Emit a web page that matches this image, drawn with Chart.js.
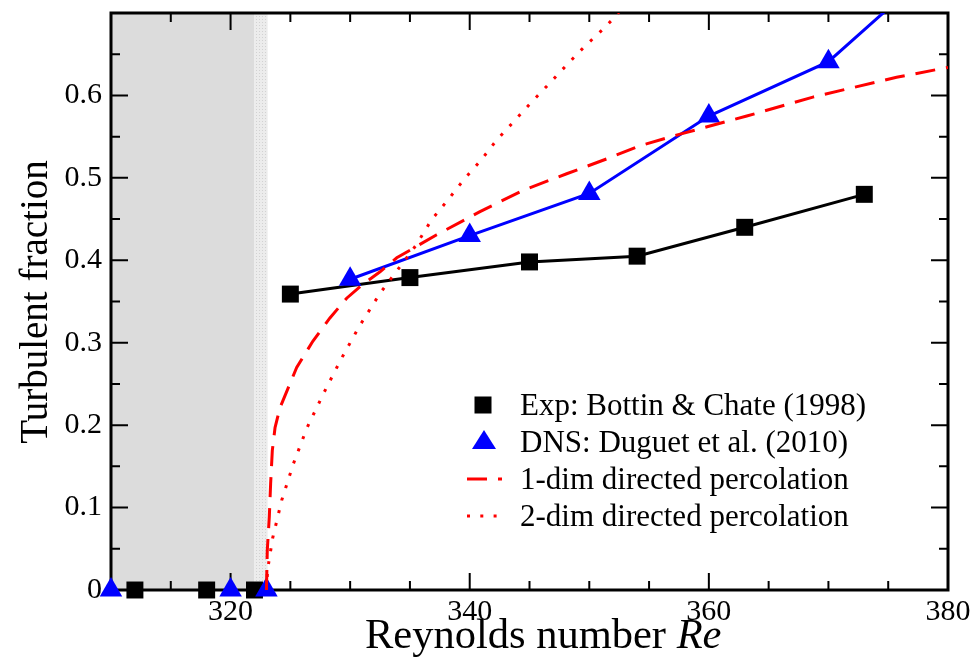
<!DOCTYPE html>
<html>
<head>
<meta charset="utf-8">
<script src="https://cdn.jsdelivr.net/npm/chart.js"></script>
<style>
  body { margin: 0; background: #fff; }
</style>
</head>
<body>
<canvas id="myChart" width="975" height="661"></canvas>
<script>
// experiment (Bottin & Chate 1998)
const expRe = [325, 335, 345, 354, 363, 373];
const expFrac = [0.359, 0.379, 0.398, 0.405, 0.440, 0.480];
const expZeroRe = [312, 318, 322];

// DNS (Duguet et al. 2010)
const dnsRe = [330, 340, 350, 360, 370, 380];
const dnsFrac = [0.377, 0.430, 0.481, 0.575, 0.641, 0.77];
const dnsZeroRe = [310, 320, 323];

// 1-dim directed percolation curve
const dp1Re = [323.0, 323.07, 323.24, 323.35, 323.49, 323.72, 324.13, 325.53, 326.89, 328.31, 329.71, 331.08, 332.5, 333.9,
  337.24, 340.86, 344.48, 348.11, 351.46, 354.24, 357.6, 363.17, 368.7, 375.7, 380];
const dp1Frac = [0, 0.048, 0.089, 0.129, 0.169, 0.197, 0.221, 0.270, 0.302, 0.330, 0.354, 0.371, 0.386, 0.403,
  0.431, 0.459, 0.485, 0.505, 0.523, 0.539, 0.553, 0.575, 0.598, 0.622, 0.634];

// 2-dim directed percolation curve
const dp2Re = [323.0, 323.1, 323.52, 324.28, 325.25, 326.37, 327.76, 329.24, 330.77, 332.5, 334.31, 335.5, 336.8, 338.16,
  339.52, 340.92, 342.26, 343.73, 345.18, 346.63, 348.11, 349.58, 351.12, 351.93, 353.0];
const dp2Frac = [0, 0.025, 0.063, 0.109, 0.153, 0.196, 0.238, 0.280, 0.320, 0.360, 0.395, 0.418, 0.449, 0.473,
  0.498, 0.521, 0.546, 0.569, 0.592, 0.614, 0.637, 0.659, 0.680, 0.692, 0.71];

const xTickLabels = [320, 340, 360, 380];
const yTickLabels = [0, 0.1, 0.2, 0.3, 0.4, 0.5, 0.6];

const shadeRange = [310, 322];
const stippleRange = [322, 323.1];

const legendItems = [
  'Exp: Bottin & Chate (1998)',
  'DNS: Duguet et al. (2010)',
  '1-dim directed percolation',
  '2-dim directed percolation'
];

function pts(xs, ys) {
  return xs.map((v, i) => ({x: v, y: ys[i]}));
}
function isIn(list, v) {
  return list.some(t => Math.abs(t - v) < 1e-6);
}

Chart.defaults.font.family = 'Liberation Serif';
Chart.defaults.color = '#000';

// stipple pattern for the narrow band
const pc = document.createElement('canvas');
pc.width = 3; pc.height = 3;
const pctx = pc.getContext('2d');
pctx.fillStyle = '#ececec';
pctx.fillRect(0, 0, 3, 3);
pctx.fillStyle = '#d2d2d2';
pctx.fillRect(1, 1, 1, 1);

const framePlugin = {
  id: 'frame',
  beforeDatasetsDraw(chart) {
    const {ctx, chartArea: a, scales: {x, y}} = chart;
    ctx.save();
    const x0 = x.getPixelForValue(shadeRange[0]);
    const x1 = x.getPixelForValue(shadeRange[1]);
    const x2 = x.getPixelForValue(stippleRange[1]);
    ctx.fillStyle = '#dcdcdc';
    ctx.fillRect(x0, a.top, x1 - x0, a.bottom - a.top);
    ctx.fillStyle = ctx.createPattern(pc, 'repeat');
    ctx.fillRect(x1, a.top, x2 - x1, a.bottom - a.top);

    ctx.strokeStyle = '#000';
    ctx.lineWidth = 2;
    x.ticks.forEach(t => {
      const px = x.getPixelForValue(t.value);
      const len = isIn(xTickLabels, t.value) ? 17 : 9;
      ctx.beginPath();
      ctx.moveTo(px, a.bottom); ctx.lineTo(px, a.bottom - len);
      ctx.moveTo(px, a.top); ctx.lineTo(px, a.top + len);
      ctx.stroke();
    });
    y.ticks.forEach(t => {
      const py = y.getPixelForValue(t.value);
      const major = Math.abs(t.value * 10 - Math.round(t.value * 10)) < 1e-6;
      const len = major ? 17 : 9;
      ctx.beginPath();
      ctx.moveTo(a.left, py); ctx.lineTo(a.left + len, py);
      ctx.moveTo(a.right, py); ctx.lineTo(a.right - len, py);
      ctx.stroke();
    });
    ctx.lineWidth = 3;
    ctx.strokeRect(a.left, a.top, a.right - a.left, a.bottom - a.top);
    ctx.restore();
  }
};

const textPlugin = {
  id: 'texts',
  afterDraw(chart) {
    const {ctx} = chart;
    ctx.save();
    ctx.fillStyle = '#000';
    // x title
    ctx.textBaseline = 'alphabetic';
    ctx.textAlign = 'left';
    ctx.font = '42.5px "Liberation Serif"';
    const part1 = 'Reynolds number ';
    ctx.fillText(part1, 365, 648);
    const w1 = ctx.measureText(part1).width;
    ctx.font = 'italic 42.5px "Liberation Serif"';
    ctx.fillText('Re', 365 + w1, 648);
    // y title
    ctx.save();
    ctx.translate(47, 302);
    ctx.rotate(-Math.PI / 2);
    ctx.textAlign = 'center';
    ctx.font = '39px "Liberation Serif"';
    ctx.fillText('Turbulent fraction', 0, 0);
    ctx.restore();

    // legend
    ctx.font = '31px "Liberation Serif"';
    ctx.textAlign = 'left';
    const tx = 520;
    const rows = [405, 442, 479, 516];
    legendItems.forEach((s, i) => ctx.fillText(s, tx, rows[i] + 10));
    ctx.fillStyle = '#000';
    ctx.fillRect(483 - 8.5, rows[0] - 8.5, 17, 17);
    ctx.fillStyle = '#0000ff';
    ctx.beginPath();
    ctx.moveTo(484, rows[1] - 12);
    ctx.lineTo(484 + 12, rows[1] + 7);
    ctx.lineTo(484 - 12, rows[1] + 7);
    ctx.closePath();
    ctx.fill();
    ctx.strokeStyle = '#ff0000';
    ctx.lineWidth = 3;
    ctx.setLineDash([20, 11]);
    ctx.beginPath();
    ctx.moveTo(467, rows[2]); ctx.lineTo(502, rows[2]);
    ctx.stroke();
    ctx.setLineDash([3, 10.3]);
    ctx.beginPath();
    ctx.moveTo(467, rows[3]); ctx.lineTo(499, rows[3]);
    ctx.stroke();
    ctx.restore();
  }
};

const ctx = document.getElementById('myChart');

new Chart(ctx, {
  type: 'line',
  data: {
    datasets: [
      {
        label: legendItems[2],
        data: pts(dp1Re, dp1Frac),
        borderColor: '#ff0000',
        borderWidth: 3,
        borderDash: [20, 11],
        pointRadius: 0,
        fill: false
      },
      {
        label: legendItems[3],
        data: pts(dp2Re, dp2Frac),
        borderColor: '#ff0000',
        borderWidth: 3,
        borderDash: [3, 10],
        pointRadius: 0,
        fill: false
      },
      {
        label: 'dns zero',
        data: dnsZeroRe.map(r => ({x: r, y: 0})),
        showLine: false,
        clip: false,
        pointStyle: 'triangle',
        pointRadius: 13,
        backgroundColor: '#0000ff',
        borderColor: '#0000ff',
        pointBorderWidth: 0
      },
      {
        label: 'exp zero',
        data: expZeroRe.map(r => ({x: r, y: 0})),
        showLine: false,
        clip: false,
        pointStyle: 'rect',
        pointRadius: 12,
        backgroundColor: '#000',
        borderColor: '#000',
        pointBorderWidth: 0
      },
      {
        label: legendItems[1],
        data: pts(dnsRe, dnsFrac),
        borderColor: '#0000ff',
        backgroundColor: '#0000ff',
        borderWidth: 3,
        pointStyle: 'triangle',
        pointRadius: 13,
        pointBorderWidth: 0,
        fill: false
      },
      {
        label: legendItems[0],
        data: pts(expRe, expFrac),
        borderColor: '#000',
        backgroundColor: '#000',
        borderWidth: 3,
        pointStyle: 'rect',
        pointRadius: 12,
        pointBorderWidth: 0,
        fill: false
      }
    ]
  },
  options: {
    responsive: false,
    animation: false,
    layout: { padding: { left: 0, top: 12, right: 27, bottom: 0 } },
    plugins: {
      legend: { display: false },
      tooltip: { enabled: false }
    },
    scales: {
      x: {
        type: 'linear',
        min: 310,
        max: 380,
        afterFit(scale) {
          scale.height = 71;
          scale.paddingLeft = 0;
          scale.paddingRight = 0;
        },
        grid: { display: false, drawTicks: false, tickLength: 0 },
        border: { display: false },
        ticks: {
          stepSize: 5,
          autoSkip: false,
          maxRotation: 0,
          padding: 4,
          font: { size: 30 },
          callback: v => isIn(xTickLabels, v) ? String(v) : ''
        }
      },
      y: {
        min: 0,
        max: 0.7,
        afterFit(scale) {
          scale.width = 111;
          scale.paddingTop = 0;
          scale.paddingBottom = 0;
        },
        grid: { display: false, drawTicks: false, tickLength: 0 },
        border: { display: false },
        ticks: {
          stepSize: 0.05,
          autoSkip: false,
          padding: 9,
          font: { size: 30 },
          callback: v => isIn(yTickLabels, v) ? String(Math.round(v * 10) / 10) : ''
        }
      }
    }
  },
  plugins: [framePlugin, textPlugin]
});
</script>
</body>
</html>
